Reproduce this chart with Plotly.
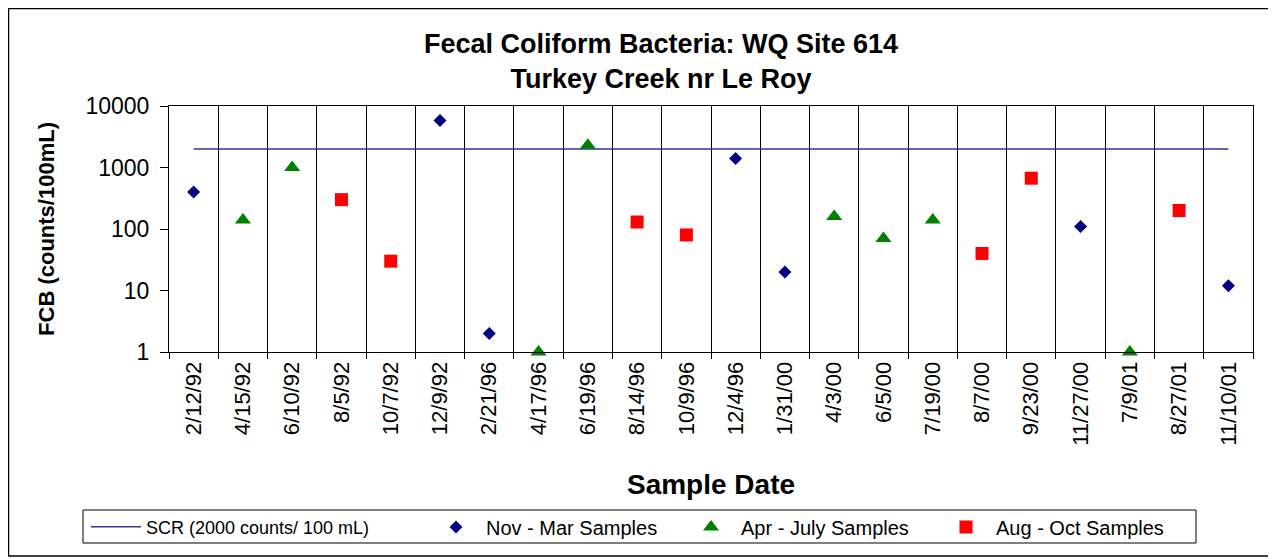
import plotly.graph_objects as go

dates = ["2/12/92", "4/15/92", "6/10/92", "8/5/92", "10/7/92", "12/9/92", "2/21/96",
         "4/17/96", "6/19/96", "8/14/96", "10/9/96", "12/4/96", "1/31/00", "4/3/00",
         "6/5/00", "7/19/00", "8/7/00", "9/23/00", "11/27/00", "7/9/01", "8/27/01", "11/10/01"]

scr = [2000, 2000, 2000, 2000, 2000, 2000, 2000, 2000, 2000, 2000, 2000,
       2000, 2000, 2000, 2000, 2000, 2000, 2000, 2000, 2000, 2000, 2000]
nov_mar = [400, None, None, None, None, 5800, 2, None, None, None, None,
           1400, 20, None, None, None, None, None, 110, None, None, 12]
apr_jul = [None, 140, 1000, None, None, None, None, 1, 2300, None, None,
           None, None, 160, 70, 140, None, None, None, 1, None, None]
aug_oct = [None, None, None, 300, 30, None, None, None, None, 130, 80,
           None, None, None, None, None, 40, 670, None, None, 200, None]

y_ticks = [1, 10, 100, 1000, 10000]
y_tick_labels = ["1", "10", "100", "1000", "10000"]

FONT = "Liberation Sans, Arial, sans-serif"

# page offset of the figure div (default body margin)
OFF = 8
PAGE_W, PAGE_H = 1276, 559
W, H = PAGE_W - OFF, PAGE_H - OFF
# plot area in page pixels
L, R, T, B = 169, 1253, 106, 352
pw, ph = R - L, B - T

def px_x(x):
    return (x - L) / pw

def px_y(y):
    return (B - y) / ph

fig = go.Figure()

fig.add_trace(go.Scatter(
    x=dates, y=scr, mode="lines", name="SCR (2000 counts/ 100 mL)",
    line=dict(color="#333399", width=1.5), legend="legend", showlegend=True))
fig.add_trace(go.Scatter(
    x=dates, y=nov_mar, mode="markers", name="Nov - Mar Samples",
    marker=dict(symbol="diamond", size=10, color="#000080"), cliponaxis=False,
    legend="legend2", showlegend=True))
fig.add_trace(go.Scatter(
    x=dates, y=apr_jul, mode="markers", name="Apr - July Samples",
    marker=dict(symbol="triangle-up", size=14, color="#008000"), cliponaxis=False,
    legend="legend2", showlegend=True))
fig.add_trace(go.Scatter(
    x=dates, y=aug_oct, mode="markers", name="Aug - Oct Samples",
    marker=dict(symbol="square", size=13, color="#FF0000"), cliponaxis=False,
    legend="legend2", showlegend=True))

fig.update_layout(
    width=W, height=H,
    margin=dict(l=L - OFF, r=PAGE_W - R, t=T - OFF, b=PAGE_H - B),
    paper_bgcolor="white", plot_bgcolor="white",
    showlegend=True,
    font=dict(family=FONT, color="black"),
    title=dict(
        text="<b>Fecal Coliform Bacteria: WQ Site 614<br>Turkey Creek nr Le Roy</b>",
        font=dict(size=27, family=FONT, color="black"),
        x=(661 - OFF) / W, xanchor="center", xref="container",
        y=1 - 45 / H, yanchor="top", yref="container"),
    xaxis=dict(
        type="category", range=[-0.5, len(dates) - 0.5],
        tickson="boundaries", ticks="outside", ticklen=6, tickcolor="black",
        showgrid=True, gridcolor="black", gridwidth=1,
        showline=True, linecolor="black", linewidth=1, mirror=True,
        tickangle=-90, tickfont=dict(size=22, family=FONT, color="black"),
        title=dict(text="<b>Sample Date</b>", font=dict(size=28, family=FONT), standoff=29),
        zeroline=False),
    yaxis=dict(
        type="log", range=[0, 4],
        tickvals=y_ticks, ticktext=y_tick_labels,
        ticks="outside", ticklen=8, tickcolor="black", ticklabelstandoff=6,
        showgrid=False, showline=True, linecolor="black", linewidth=1, mirror=True,
        tickfont=dict(size=23, family=FONT, color="black"),
        title=dict(text="<b>FCB (counts/100mL)</b>", font=dict(size=22, family=FONT), standoff=24),
        zeroline=False),
    legend=dict(
        orientation="h", x=px_x(86), xanchor="left", y=px_y(527), yanchor="middle",
        font=dict(size=18, family=FONT, color="black"), itemwidth=50,
        bgcolor="rgba(0,0,0,0)", borderwidth=0),
    legend2=dict(
        orientation="h", x=px_x(426), xanchor="left", y=px_y(527), yanchor="middle",
        font=dict(size=20, family=FONT, color="black"), itemwidth=50,
        entrywidthmode="pixels", entrywidth=190,
        bgcolor="rgba(0,0,0,0)", borderwidth=0),
    shapes=[
        dict(type="rect", xref="paper", yref="paper",
             x0=px_x(83), x1=px_x(1196), y0=px_y(543), y1=px_y(510),
             line=dict(color="black", width=1), fillcolor="rgba(0,0,0,0)", layer="above"),
        dict(type="rect", xref="paper", yref="paper",
             x0=px_x(8.5), x1=px_x(1271), y0=px_y(556), y1=px_y(8.5),
             line=dict(color="black", width=1.5), fillcolor="rgba(0,0,0,0)", layer="below"),
    ],
)

fig.write_html("out.html")
